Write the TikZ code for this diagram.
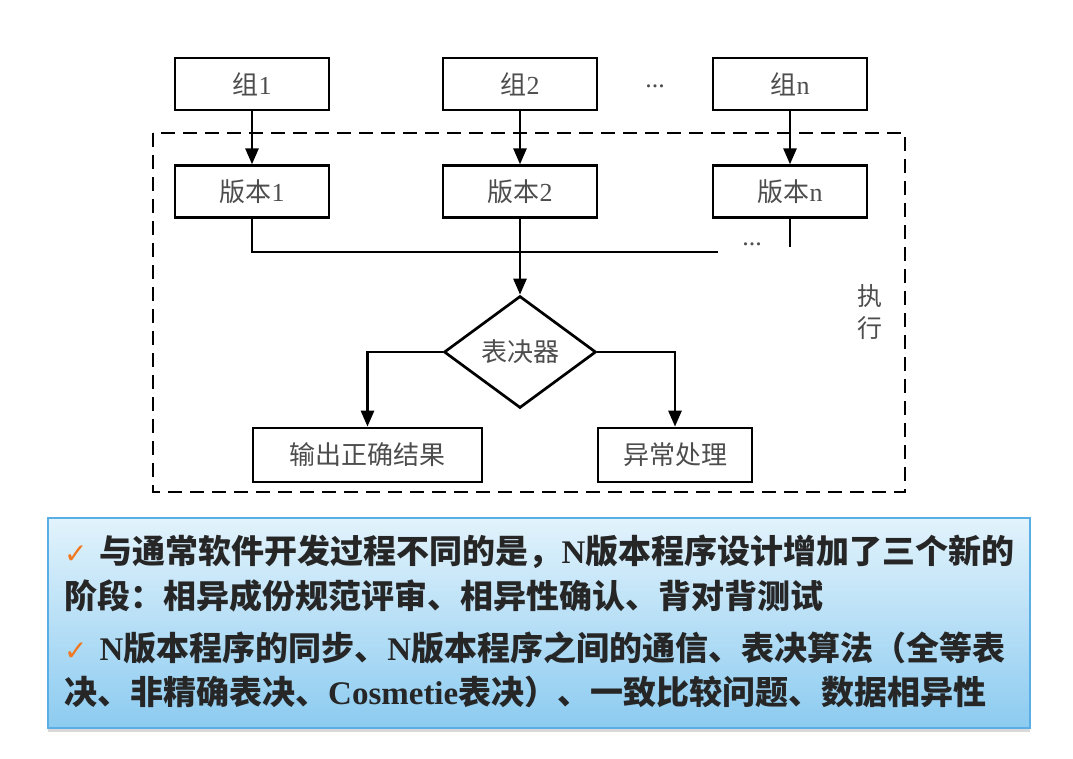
\documentclass[tikz,border=0pt]{standalone}
\usepackage{fontspec}
\setmainfont{Liberation Serif}
\newfontfamily\cjk{Noto Sans CJK SC}
\newfontfamily\symb{DejaVu Sans}
\usetikzlibrary{arrows.meta,positioning,shapes.geometric,shadows}
\definecolor{txtgray}{HTML}{4D4D4D}
\definecolor{noteblue}{HTML}{5AAEE6}
\definecolor{notetop}{HTML}{E2F3FC}
\definecolor{notebot}{HTML}{8CCBF0}
\definecolor{tick}{HTML}{F07820}
\newcommand{\tickmark}{{\symb\color{tick}\fontsize{28}{28}\selectfont ✓}\hspace{12pt}}

\begin{document}
\begin{tikzpicture}[
  x=1pt, y=-1pt,
  font=\fontsize{26}{30}\selectfont,
  box/.style={draw, line width=2.7pt, minimum width=154pt, minimum height=52pt, inner sep=0pt, text=txtgray},
  vote/.style={draw, diamond, line width=2.7pt, minimum width=152pt, minimum height=112pt, inner sep=0pt, text=txtgray},
  line/.style={line width=2.7pt},
  arr/.style={line width=2.7pt, -{Triangle[width=13pt,length=16pt]}},
  noteline/.style={anchor=base west, inner sep=0pt, font=\fontsize{33}{40}\selectfont\bfseries, text=black!85}
]
\useasboundingbox (0,0) rectangle (1073,758);
% groups
\node[box] (g1) at (252,84) {{\cjk 组}1};
\node[box] (g2) at (520,84) {{\cjk 组}2};
\node[box] (gn) at (790,84) {{\cjk 组}n};
\node[text=txtgray] (gdots) at (655,86) {...};
% execution frame
\draw[line, dash pattern=on 14pt off 8pt] (153,133) rectangle (905,492);
\node[text=txtgray, align=center, font=\fontsize{25}{32}\selectfont\cjk] (execlbl) at (870,312) {执\\行};
% versions
\node[box, below=53pt of g1] (v1) {{\cjk 版本}1};
\node[box, below=53pt of g2] (v2) {{\cjk 版本}2};
\node[box, below=53pt of gn] (vn) {{\cjk 版本}n};
\draw[arr] (g1) -- (v1);
\draw[arr] (g2) -- (v2);
\draw[arr] (gn) -- (vn);
% bus to the voter
\coordinate (busend) at (718,252);
\coordinate (vnend) at (790,247);
\node[text=txtgray] (bdots) at (752,244) {...};
\draw[line] (v1.south) |- (busend);
\draw[line] (vn.south) -- (vnend);
\node[vote] (vote) at (520,352) {\cjk 表决器};
\draw[arr] (v2.south) -- (vote.north);
% results
\node[box, minimum width=229pt, minimum height=54pt] (out) at (367.5,455) {\cjk 输出正确结果};
\node[box, minimum height=54pt] (exc) at (675,455) {\cjk 异常处理};
\draw[arr] (vote.west) -| (out.north);
\draw[arr] (vote.east) -| (exc.north);
% note
\node[draw=noteblue, line width=1.2pt, top color=notetop, bottom color=notebot,
  minimum width=982pt, minimum height=210pt, inner sep=0pt,
  drop shadow={opacity=0.3, shadow xshift=0pt, shadow yshift=-4pt}] (note) at (539,623) {};
\node[noteline] (l1) at (64,563) {\tickmark{\cjk 与通常软件开发过程不同的是，}N{\cjk 版本程序设计增加了三个新的}};
\node[noteline] (l2) at (64,608) {\cjk 阶段：相异成份规范评审、相异性确认、背对背测试};
\node[noteline] (l3) at (64,660) {\tickmark N{\cjk 版本程序的同步、}N{\cjk 版本程序之间的通信、表决算法（全等表}};
\node[noteline] (l4) at (64,704) {{\cjk 决、非精确表决、}Cosmetie{\cjk 表决）、一致比较问题、数据相异性}};
\end{tikzpicture}
\end{document}
